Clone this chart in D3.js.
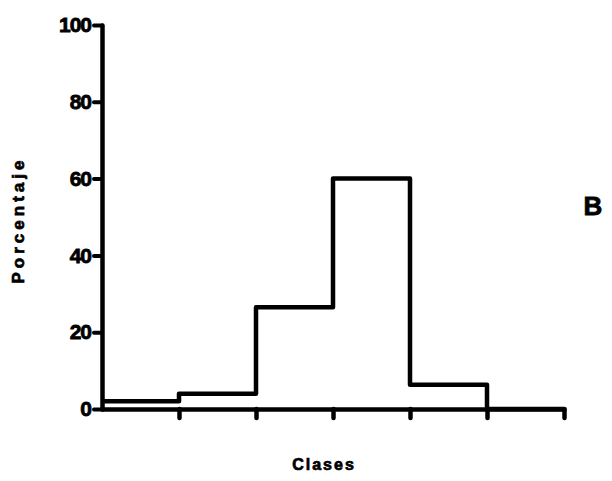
<!DOCTYPE html>
<html>
<head>
<meta charset="utf-8">
<script src="https://cdn.jsdelivr.net/npm/d3@7"></script>
<style>
  body { margin: 0; background: #fff; }
  text { font-family: "Liberation Sans", Arial, sans-serif; font-weight: bold; fill: #000; }
</style>
</head>
<body>
<div id="chart"></div>
<script>
// Percentage of each class (6 classes)
const classes = [1, 2, 3, 4, 5, 6];
const percentages = [2, 4, 26.5, 60, 6.3, 0];
const yTicks = [0, 20, 40, 60, 80, 100];

const width = 612;
const height = 481;

const svg = d3.select("#chart")
    .append("svg")
    .attr("width", width)
    .attr("height", height);

// Scales
const xScale = d3.scaleLinear()
    .domain([0, classes.length])
    .range([102, 564]);

const yScale = d3.scaleLinear()
    .domain([0, 100])
    .range([409, 25]);

// Y axis
const yAxis = svg.append("g")
    .attr("transform", `translate(${xScale(0)},0)`)
    .call(d3.axisLeft(yScale).tickValues(yTicks).tickSize(8).tickSizeOuter(0).tickPadding(3));
yAxis.select(".domain").attr("stroke-width", 4.5).attr("stroke-linecap", "round");
yAxis.selectAll(".tick line").attr("stroke-width", 4).attr("stroke-linecap", "round");
yAxis.selectAll(".tick text")
    .style("font-size", "21px")
    .style("font-family", "'Liberation Sans', Arial, sans-serif")
    .style("font-weight", "bold")
    .attr("stroke", "#000")
    .attr("stroke-width", 0.8)
    .attr("letter-spacing", "-1");

// X axis (ticks only, no labels, no tick at the origin)
const xAxis = svg.append("g")
    .attr("transform", `translate(0,${yScale(0)})`)
    .call(d3.axisBottom(xScale).tickValues(d3.range(1, classes.length + 1)).tickSize(9).tickSizeOuter(0).tickFormat(""));
xAxis.select(".domain").attr("stroke-width", 4.5).attr("stroke-linecap", "round");
xAxis.selectAll(".tick line").attr("stroke-width", 4.5).attr("stroke-linecap", "round");

// Step outline of the histogram
const stepData = percentages.map((v, i) => ({x: i, v: v}));
stepData.push({x: classes.length, v: 0});

const line = d3.line()
    .x(d => xScale(d.x))
    .y(d => yScale(d.v))
    .curve(d3.curveStepAfter);

svg.append("path")
    .datum(stepData)
    .attr("fill", "none")
    .attr("stroke", "#000")
    .attr("stroke-width", 4.5)
    .attr("stroke-linejoin", "round")
    .attr("d", line);

// Axis titles
svg.append("text")
    .attr("transform", "translate(24,220) rotate(-90)")
    .attr("text-anchor", "middle")
    .attr("letter-spacing", "4")
    .attr("stroke", "#000")
    .attr("stroke-width", 0.7)
    .style("font-size", "17px")
    .text("Porcentaje");

svg.append("text")
    .attr("x", 324)
    .attr("y", 470)
    .attr("text-anchor", "middle")
    .attr("letter-spacing", "2")
    .attr("stroke", "#000")
    .attr("stroke-width", 0.7)
    .style("font-size", "16px")
    .text("Clases");

// Panel label
svg.append("text")
    .attr("x", 593)
    .attr("y", 215)
    .attr("text-anchor", "middle")
    .attr("stroke", "#000")
    .attr("stroke-width", 0.8)
    .style("font-size", "26px")
    .text("B");
</script>
</body>
</html>
